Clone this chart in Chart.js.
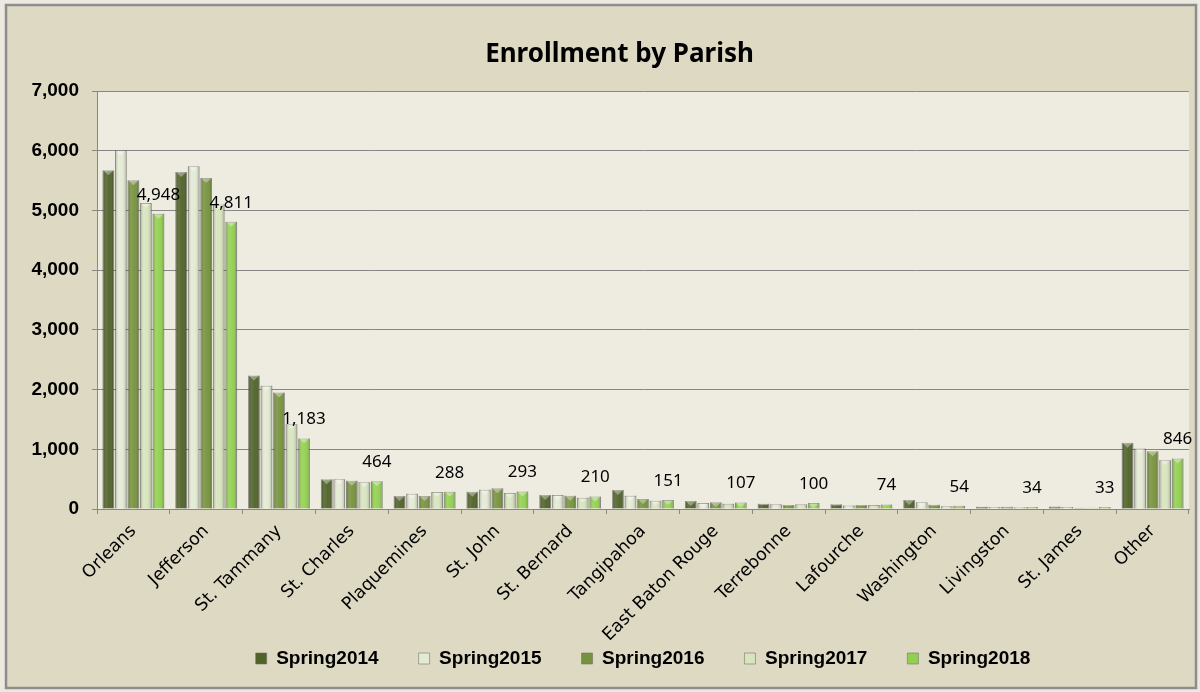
<!DOCTYPE html>
<html>
<head>
<meta charset="utf-8">
<title>Enrollment by Parish</title>
<script src="https://cdn.jsdelivr.net/npm/chart.js@4.4.1/dist/chart.umd.min.js"></script>
<style>
  body { margin: 0; background: #eceae0; }
  canvas { display: block; }
</style>
</head>
<body>
<canvas id="parishChart" width="1200" height="692"></canvas>
<script>
const parishes = ['Orleans', 'Jefferson', 'St. Tammany', 'St. Charles', 'Plaquemines', 'St. John',
  'St. Bernard', 'Tangipahoa', 'East Baton Rouge', 'Terrebonne', 'Lafourche', 'Washington',
  'Livingston', 'St. James', 'Other'];

const spring2014 = [5674, 5645, 2235, 497, 218, 290, 235, 319, 134, 89, 80, 151, 39, 40, 1108];
const spring2015 = [6010, 5741, 2065, 500, 257, 324, 235, 224, 100, 78, 60, 112, 34, 35, 1012];
const spring2016 = [5506, 5545, 1952, 475, 218, 346, 224, 168, 112, 67, 65, 73, 39, 20, 969];
const spring2017 = [5125, 5103, 1422, 450, 283, 268, 190, 140, 90, 78, 65, 45, 30, 20, 818];
const spring2018 = [4948, 4811, 1183, 464, 288, 293, 210, 151, 107, 100, 74, 54, 34, 33, 846];

const yTicks = [0, 1000, 2000, 3000, 4000, 5000, 6000, 7000];

const gridGrey = '#878787';

// background, frame and plot area
const framePlugin = {
  id: 'frame',
  beforeDraw(chart) {
    // let the tick labels spill out of their boxes like the excel original
    Object.values(chart.scales).forEach(s => { s._computeLabelArea = () => undefined; });
    const c = chart.ctx;
    const a = chart.chartArea;
    c.save();
    c.fillStyle = '#eceae0';
    c.fillRect(0, 0, chart.width, chart.height);
    c.fillStyle = '#ddd9c3';
    c.fillRect(6, 5, chart.width - 10, chart.height - 9);
    c.strokeStyle = '#8d8d8d';
    c.lineWidth = 2.5;
    c.strokeRect(6, 5, chart.width - 10, chart.height - 9);
    c.fillStyle = '#eeece1';
    c.fillRect(a.left, a.top, a.right - a.left, a.bottom - a.top);
    c.restore();
  }
};

// fake the excel bevel on every bar
const bevelPlugin = {
  id: 'bevel',
  afterDatasetsDraw(chart) {
    const c = chart.ctx;
    chart.data.datasets.forEach((ds, di) => {
      const meta = chart.getDatasetMeta(di);
      if (meta.hidden) return;
      meta.data.forEach(bar => {
        const p = bar.getProps(['x', 'y', 'base', 'width'], true);
        const l = p.x - p.width / 2;
        const h = p.base - p.y;
        if (h < 1) return;
        c.save();
        const g = c.createLinearGradient(l, 0, l + p.width, 0);
        g.addColorStop(0, 'rgba(0,0,0,0.25)');
        g.addColorStop(0.3, 'rgba(255,255,255,0.12)');
        g.addColorStop(0.6, 'rgba(255,255,255,0.04)');
        g.addColorStop(1, 'rgba(0,0,0,0.25)');
        c.fillStyle = g;
        c.fillRect(l, p.y, p.width, h);
        if (h > 5) {
          c.fillStyle = 'rgba(255,255,255,0.35)';
          c.beginPath();
          c.moveTo(l + 1.5, p.y + 1);
          c.lineTo(l + p.width - 1.5, p.y + 1);
          c.lineTo(p.x, p.y + 5);
          c.closePath();
          c.fill();
        }
        c.restore();
      });
    });
  }
};

// value labels for the last series only
const valueLabels = {
  id: 'valueLabels',
  afterDatasetsDraw(chart) {
    const c = chart.ctx;
    const di = chart.data.datasets.length - 1;
    const meta = chart.getDatasetMeta(di);
    c.save();
    c.font = '17px "Noto Sans"';
    c.fillStyle = '#000';
    c.textAlign = 'center';
    c.textBaseline = 'middle';
    meta.data.forEach((bar, i) => {
      const v = chart.data.datasets[di].data[i];
      c.fillText(v.toLocaleString('en-US'), bar.x, bar.y - 19);
    });
    c.restore();
  }
};

function series(label, data, color) {
  return {
    label: label,
    data: data,
    backgroundColor: color,
    borderColor: 'rgba(110,110,100,0.55)',
    borderWidth: 1,
    categoryPercentage: 0.86,
    barPercentage: 0.93
  };
}

const ctx = document.getElementById('parishChart').getContext('2d');
const parishChart = new Chart(ctx, {
  type: 'bar',
  data: {
    labels: parishes,
    datasets: [
      series('Spring2014', spring2014, '#4f6228'),
      series('Spring2015', spring2015, '#e3ead3'),
      series('Spring2016', spring2016, '#76923c'),
      series('Spring2017', spring2017, '#d7e4bd'),
      series('Spring2018', spring2018, '#92d050')
    ]
  },
  plugins: [framePlugin, bevelPlugin, valueLabels],
  options: {
    responsive: false,
    animation: false,
    locale: 'en-US',
    layout: { padding: { left: 50, right: 11, top: 0, bottom: 14 } },
    plugins: {
      tooltip: { enabled: false },
      title: {
        display: true,
        text: 'Enrollment by Parish',
        color: '#000',
        font: { family: 'Noto Sans', size: 26, weight: 'bold' },
        padding: { top: 39, bottom: 21 }
      },
      legend: {
        position: 'bottom',
        fullSize: false,
        labels: {
          color: '#000',
          boxWidth: 11,
          boxHeight: 11,
          padding: 40,
          font: { family: 'Liberation Sans', size: 19, weight: 'bold' }
        }
      }
    },
    scales: {
      y: {
        min: 0,
        max: 7000,
        afterBuildTicks(s) { s.ticks = yTicks.map(v => ({ value: v })); },
        afterFit(s) { s.width = 47; },
        ticks: {
          padding: 13,
          color: '#000',
          font: { family: 'Liberation Sans', size: 19, weight: 'bold' }
        },
        grid: { color: gridGrey, tickLength: 5 },
        border: { color: gridGrey }
      },
      x: {
        afterFit(s) { s.height = 100; },
        ticks: {
          autoSkip: false,
          minRotation: 45,
          maxRotation: 45,
          padding: 7,
          color: '#000',
          font: { family: 'DejaVu Sans', size: 17.5 }
        },
        grid: { drawOnChartArea: false, tickLength: 5, color: gridGrey, offset: true },
        border: { color: gridGrey }
      }
    }
  }
});
</script>
</body>
</html>
